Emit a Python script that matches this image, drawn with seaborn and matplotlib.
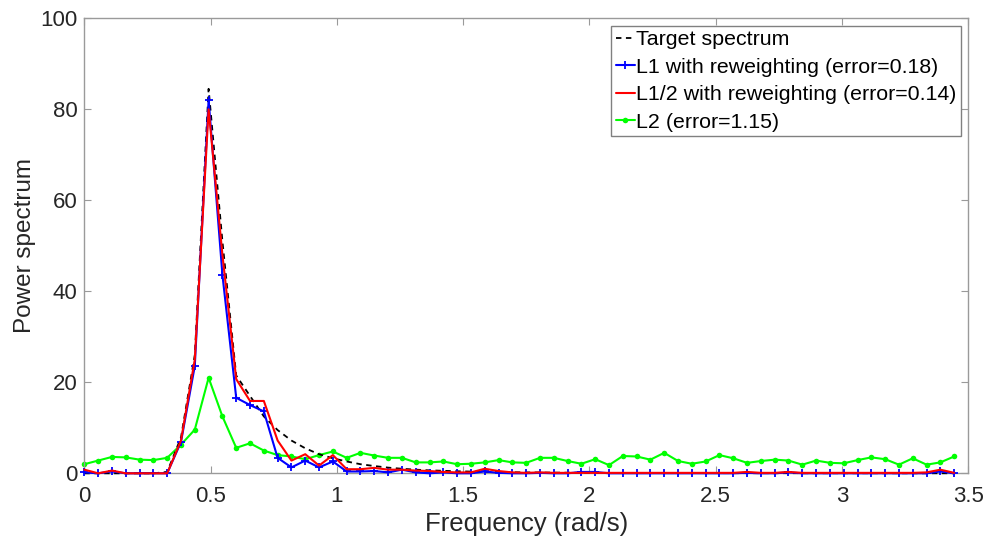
import numpy as np
import pandas as pd
import matplotlib
matplotlib.use("Agg")
import matplotlib.pyplot as plt
import seaborn as sns

# Frequency grid (rad/s), 64 samples
freq = [0.0000, 0.0547, 0.1093, 0.1640, 0.2187, 0.2733, 0.3280, 0.3827,
        0.4373, 0.4920, 0.5467, 0.6013, 0.6560, 0.7107, 0.7653, 0.8200,
        0.8747, 0.9293, 0.9840, 1.0387, 1.0933, 1.1480, 1.2027, 1.2573,
        1.3120, 1.3667, 1.4213, 1.4760, 1.5307, 1.5853, 1.6400, 1.6947,
        1.7493, 1.8040, 1.8587, 1.9133, 1.9680, 2.0227, 2.0773, 2.1320,
        2.1867, 2.2413, 2.2960, 2.3507, 2.4053, 2.4600, 2.5147, 2.5693,
        2.6240, 2.6787, 2.7333, 2.7880, 2.8427, 2.8973, 2.9520, 3.0067,
        3.0613, 3.1160, 3.1707, 3.2253, 3.2800, 3.3347, 3.3893, 3.4440]

target = [0, 0, 0, 0, 0, 0, 0.3, 7.9,
          26.0, 84.5, 51.0, 21.5, 17.0, 12.5, 9.5, 7.2,
          5.5, 4.2, 3.3, 2.6, 2.0, 1.6, 1.25, 1.0,
          0.8, 0.65, 0.55, 0.45, 0.38, 0.32, 0.27, 0.23,
          0.2, 0.17, 0.15, 0.13, 0.11, 0.1, 0.09, 0.08,
          0.07, 0.06, 0.06, 0.05, 0.05, 0.04, 0.04, 0.04,
          0.03, 0.03, 0.03, 0.03, 0.02, 0.02, 0.02, 0.02,
          0.02, 0.02, 0.02, 0.01, 0.01, 0.01, 0.01, 0.01]

l1_rw = [0.2, 0.0, 0.4, 0.0, 0.0, 0.0, 0.0, 6.9,
         23.6, 82.1, 43.6, 16.6, 15.0, 13.6, 3.4, 1.3,
         2.8, 1.3, 2.6, 0.4, 0.4, 0.5, 0.2, 0.8,
         0.2, 0.0, 0.2, 0.0, 0.0, 0.4, 0.1, 0.0,
         0.0, 0.1, 0.0, 0.0, 0.3, 0.3, 0.0, 0.0,
         0.0, 0.0, 0.0, 0.0, 0.0, 0.0, 0.0, 0.0,
         0.1, 0.0, 0.0, 0.2, 0.0, 0.0, 0.0, 0.0,
         0.0, 0.0, 0.0, 0.0, 0.0, 0.0, 0.4, 0.0]

lhalf_rw = [0.8, 0.0, 0.6, 0.0, 0.0, 0.0, 0.0, 7.2,
            25.0, 80.0, 48.0, 20.7, 15.9, 15.9, 7.2, 2.8,
            4.2, 1.7, 4.0, 0.9, 0.9, 1.2, 0.8, 0.8,
            0.6, 0.5, 0.3, 0.2, 0.2, 1.0, 0.5, 0.2,
            0.1, 0.2, 0.1, 0.1, 0.1, 0.1, 0.1, 0.1,
            0.1, 0.1, 0.1, 0.1, 0.1, 0.1, 0.1, 0.1,
            0.3, 0.1, 0.1, 0.3, 0.1, 0.1, 0.1, 0.1,
            0.1, 0.1, 0.1, 0.1, 0.1, 0.2, 0.8, 0.1]

l2 = [2.0, 2.8, 3.6, 3.5, 3.0, 2.9, 3.4, 6.3,
      9.6, 21.0, 12.5, 5.6, 6.6, 5.0, 4.0, 3.7,
      3.1, 4.0, 4.8, 3.4, 4.5, 3.9, 3.4, 3.4,
      2.4, 2.4, 2.6, 2.0, 2.1, 2.4, 2.9, 2.4,
      2.3, 3.4, 3.4, 2.7, 2.1, 3.1, 1.8, 3.8,
      3.7, 3.0, 4.5, 2.7, 2.1, 2.6, 4.0, 3.3,
      2.3, 2.7, 3.0, 2.8, 1.9, 2.8, 2.3, 2.2,
      2.9, 3.5, 3.1, 1.9, 3.3, 1.9, 2.4, 3.7]

labels = ["Target spectrum",
          "L1 with reweighting (error=0.18)",
          "L1/2 with reweighting (error=0.14)",
          "L2 (error=1.15)"]

sns.set_style("white")
plt.rcParams['font.family'] = ['Liberation Sans', 'DejaVu Sans']

fig = plt.figure(figsize=(9.9, 5.48), dpi=100)
ax = fig.add_axes([0.0852, 0.1363, 0.8929, 0.8303])

df = pd.DataFrame({"freq": freq, "target": target, "l1": l1_rw,
                   "lhalf": lhalf_rw, "l2": l2})

sns.lineplot(data=df, x="freq", y="target", ax=ax, color="black",
             linestyle=(0, (3, 2.5)), linewidth=1.3, label=labels[0],
             clip_on=False, zorder=3)
sns.lineplot(data=df, x="freq", y="l1", ax=ax, color="#0000ff",
             marker="+", markersize=6, markeredgewidth=1.3,
             markeredgecolor="#0000ff", linewidth=1.5, label=labels[1],
             clip_on=False, zorder=4)
sns.lineplot(data=df, x="freq", y="lhalf", ax=ax, color="#ff0000",
             linewidth=1.5, label=labels[2], clip_on=False, zorder=5)
sns.lineplot(data=df, x="freq", y="l2", ax=ax, color="#00ff00",
             marker="o", markersize=4, markeredgewidth=0,
             linewidth=1.5, label=labels[3], clip_on=False, zorder=2)

ax.set_xlim(0, 3.5)
ax.set_ylim(0, 100)
ax.set_xticks([0, 0.5, 1, 1.5, 2, 2.5, 3, 3.5])
ax.set_xticklabels(["0", "0.5", "1", "1.5", "2", "2.5", "3", "3.5"])
ax.set_yticks([0, 20, 40, 60, 80, 100])
ax.set_xlabel("Frequency (rad/s)", fontsize=18.5, color="#262626", labelpad=4)
ax.set_ylabel("Power spectrum", fontsize=17.5, color="#262626", labelpad=3)

for s in ax.spines.values():
    s.set_visible(True)
    s.set_color("#9a9a9a")
    s.set_linewidth(1.0)
ax.tick_params(axis="both", direction="in", length=5, width=0.8,
               color="#9a9a9a", labelsize=16, labelcolor="#262626",
               top=True, right=True, bottom=True, left=True,
               labeltop=False, labelright=False)
ax.tick_params(axis="x", pad=9)
ax.tick_params(axis="y", pad=5)

leg = ax.legend(loc="upper right", bbox_to_anchor=(0.9914, 0.9837),
                fontsize=15.4, frameon=True, fancybox=False,
                handlelength=0.9, handletextpad=0.05, borderpad=0.2,
                labelspacing=0.40, borderaxespad=0.0)
leg.get_frame().set_edgecolor("#808080")
leg.get_frame().set_linewidth(1.0)
leg.get_frame().set_alpha(1.0)
leg.set_zorder(10)
for t in leg.get_texts():
    t.set_color("black")

fig.savefig("out.png", dpi=100)
